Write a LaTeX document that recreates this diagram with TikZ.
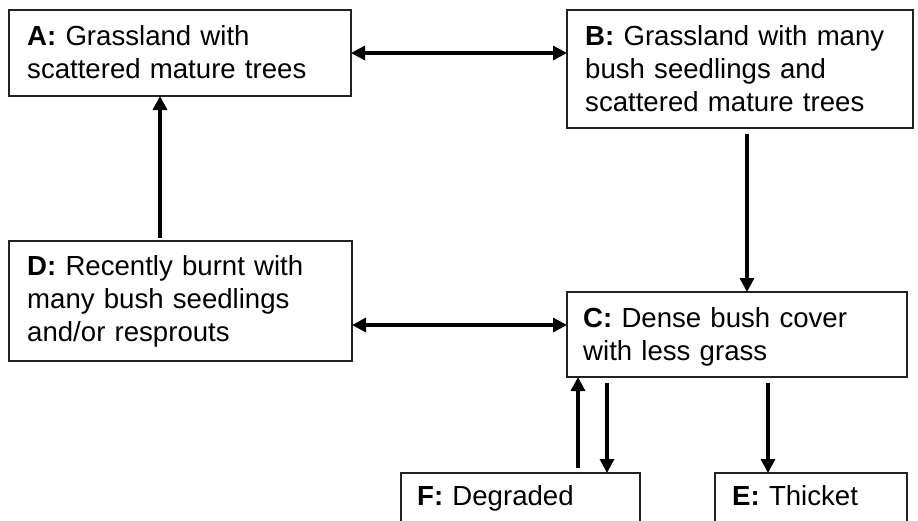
\documentclass[tikz,border=0pt]{standalone}
\usepackage{fontspec}
\setmainfont{Liberation Sans}
\usetikzlibrary{arrows.meta,calc}
\definecolor{boxgray}{HTML}{222222}

\begin{document}
\begin{tikzpicture}[x=1pt,y=-1pt,
  box/.style={draw=boxgray, line width=2pt, rectangle, inner sep=0pt, outer sep=0pt, anchor=north west},
  lbl/.style={anchor=base west, inner sep=0pt, align=left, text width=330pt,
    font=\fontsize{27.6}{33}\selectfont, text=black},
  link/.style={line width=3.2pt, draw=black},
  fwd/.style={link, -{Triangle[length=14pt,width=14pt]}},
  both/.style={link, {Triangle[length=14pt,width=14pt]}-{Triangle[length=14pt,width=14pt]}}]

  \useasboundingbox (0,0) rectangle (918,520);
  \fill[white] (0,0) rectangle (918,520);
  \clip (0,0) rectangle (918,520);

  % state boxes
  \node[box, minimum width=342pt, minimum height=86pt]  (A) at (9,10) {};
  \node[box, minimum width=346pt, minimum height=118pt] (B) at (567,10) {};
  \node[box, minimum width=343pt, minimum height=120pt] (D) at (9,241) {};
  \node[box, minimum width=340pt, minimum height=85pt]  (C) at (567,292) {};
  \node[box, minimum width=239pt, minimum height=80pt]  (F) at (401,473) {};
  \node[box, minimum width=192pt, minimum height=80pt]  (E) at (715,473) {};

  % box texts
  \node[lbl] (At) at ($(A.north west)+(18,35)$) {\textbf{A:} Grassland with\\scattered mature trees};
  \node[lbl] (Bt) at ($(B.north west)+(18,35)$) {\textbf{B:} Grassland with many\\bush seedlings and\\scattered mature trees};
  \node[lbl] (Dt) at ($(D.north west)+(18,34)$) {\textbf{D:} Recently burnt with\\many bush seedlings\\and/or resprouts};
  \node[lbl] (Ct) at ($(C.north west)+(16,35)$) {\textbf{C:} Dense bush cover\\with less grass};
  \node[lbl] (Ft) at ($(F.north west)+(16,32)$) {\textbf{F:} Degraded};
  \node[lbl] (Et) at ($(E.north west)+(17,32)$) {\textbf{E:} Thicket};

  % transitions
  \draw[both] (A.east) -- (A.east -| B.west);
  \draw[fwd]  ($(B.south west)+(180,6)$) -- ($(C.north west)+(180,0)$);
  \draw[fwd]  ($(D.north west)+(151,-3)$) -- ($(A.south west)+(151,0)$);
  \draw[both] ($(D.north east)+(0,84)$) -- ($(C.north west)+(0,33)$);
  \draw[fwd]  ($(C.south west)+(40,6)$) -- ($(F.north west)+(206,0)$);
  \draw[fwd]  ($(F.north west)+(177,-5)$) -- ($(C.south west)+(11,0)$);
  \draw[fwd]  ($(C.south west)+(201,6)$) -- ($(E.north west)+(53,0)$);
\end{tikzpicture}
\end{document}
